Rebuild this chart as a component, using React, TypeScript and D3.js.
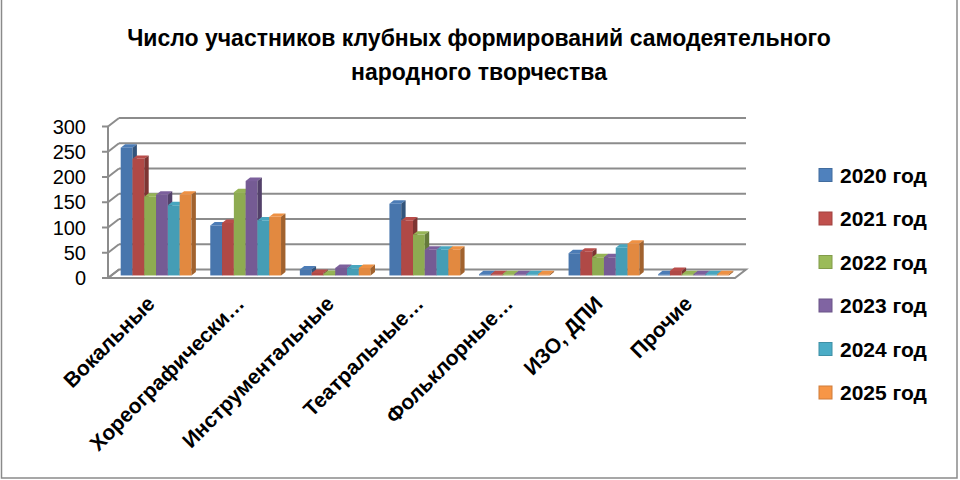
import React from 'react';
import * as d3 from 'd3';

const categories = [
  'Вокальные',
  'Хореографически…',
  'Инструментальные',
  'Театральные…',
  'Фольклорные…',
  'ИЗО, ДПИ',
  'Прочие',
];
const seriesNames = ['2020 год', '2021 год', '2022 год', '2023 год', '2024 год', '2025 год'];
const values2020 = [253, 99, 12, 142, 0, 44, 0];
const values2021 = [231, 104, 5, 109, 0, 47, 9];
const values2022 = [156, 165, 3, 81, 0, 36, 0];
const values2023 = [160, 187, 15, 51, 0, 36, 0];
const values2024 = [139, 109, 14, 51, 0, 55, 0];
const values2025 = [160, 116, 15, 51, 0, 63, 0];
const seriesValues = [values2020, values2021, values2022, values2023, values2024, values2025];
const seriesColors = ['#4F81BD', '#C0504D', '#9BBB59', '#8064A2', '#4BACC6', '#F79646'];
const yTicks = [0, 50, 100, 150, 200, 250, 300];
const titleLines = ['Число участников клубных формирований самодеятельного', 'народного творчества'];

const W = 960;
const H = 480;
const FONT = '"Liberation Sans", Arial, sans-serif';
// 3D wall depth offset
const DX = 11;
const DY = -8.5;

export default function App() {
  const x0 = d3.scaleBand<string>().domain(categories).range([108, 735]).paddingInner(0.21).paddingOuter(0.105);
  const x1 = d3.scaleBand<string>().domain(seriesNames).range([0, x0.bandwidth()]);
  const y = d3.scaleLinear().domain([0, 300]).range([278, 126.5]);

  const bx = DX * 0.3, by = DY * 0.3;
  const bdx = DX * 0.4, bdy = DY * 0.4;
  const [xl, xr] = x0.range();
  const grid = '#8c8c8c';

  const bars: React.ReactNode[] = [];
  categories.forEach((cat, ci) => {
    seriesNames.forEach((s, si) => {
      const v = seriesValues[si][ci];
      const x = (x0(cat) as number) + (x1(s) as number) + bx;
      const w = x1.bandwidth();
      const yBot = y(0) + by;
      const yTop = Math.min(y(v) + by, yBot - 1.2);
      const base = d3.color(seriesColors[si])!;
      const front = base.darker(0.25).toString();
      const top = base.darker(0.1).toString();
      const side = base.darker(1.2).toString();
      bars.push(
        <g key={`${ci}-${si}`}>
          <rect x={x} y={yTop} width={w} height={yBot - yTop} fill={front} />
          <polygon
            points={`${x},${yTop} ${x + bdx},${yTop + bdy} ${x + w + bdx},${yTop + bdy} ${x + w},${yTop}`}
            fill={top}
          />
          <polygon
            points={`${x + w},${yTop} ${x + w + bdx},${yTop + bdy} ${x + w + bdx},${yBot + bdy} ${x + w},${yBot}`}
            fill={side}
          />
        </g>
      );
    });
  });

  return (
    <svg width={W} height={H} style={{ position: 'absolute', left: 0, top: 0, background: '#fff' }} fontFamily={FONT}>
      <rect x={1.5} y={-2} width={955.5} height={480} fill="#fff" stroke="#8a8a8a" strokeWidth={1.5} />

      {titleLines.map((t, i) => (
        <text key={i} x={479} y={38 + i * 34} textAnchor="middle" dominantBaseline="central" fontSize={23} fontWeight="bold" fill="#000">
          {t}
        </text>
      ))}

      {/* floor */}
      <polygon
        points={`${xl},${y(0)} ${xr},${y(0)} ${xr + DX},${y(0) + DY} ${xl + DX},${y(0) + DY}`}
        fill="#fff"
        stroke={grid}
        strokeWidth={2}
      />

      {/* back wall gridlines, side wall diagonals, ticks */}
      {yTicks.map(t => (
        <g key={t}>
          {t > 0 && <line x1={xl + DX} x2={xr + DX} y1={y(t) + DY} y2={y(t) + DY} stroke={grid} strokeWidth={2} />}
          <line x1={xl} x2={xl + DX} y1={y(t)} y2={y(t) + DY} stroke={grid} strokeWidth={2} />
          <line x1={xl - 6} x2={xl} y1={y(t)} y2={y(t)} stroke={grid} strokeWidth={2} />
          <text x={86} y={y(t)} textAnchor="end" dominantBaseline="central" fontSize={20} fill="#000">
            {t}
          </text>
        </g>
      ))}
      <line x1={xl} x2={xl} y1={y(300)} y2={y(0)} stroke={grid} strokeWidth={2} />

      {bars}

      {categories.map(cat => {
        const cx = (x0(cat) as number) + x0.bandwidth() / 2 + bx;
        return (
          <text
            key={cat}
            transform={`translate(${cx},${305}) rotate(-45)`}
            textAnchor="end"
            fontSize={21}
            fontWeight="bold"
            fill="#000"
          >
            {cat}
          </text>
        );
      })}

      {seriesNames.map((s, i) => {
        const ry = 175 + i * 43.5;
        return (
          <g key={s}>
            <rect x={819} y={ry - 6.5} width={13} height={13} fill={seriesColors[i]} stroke={d3.color(seriesColors[i])!.darker(0.5).toString()} strokeWidth={1} />
            <text x={840} y={ry} dominantBaseline="central" fontSize={21} fontWeight="bold" fill="#000">
              {s}
            </text>
          </g>
        );
      })}
    </svg>
  );
}
